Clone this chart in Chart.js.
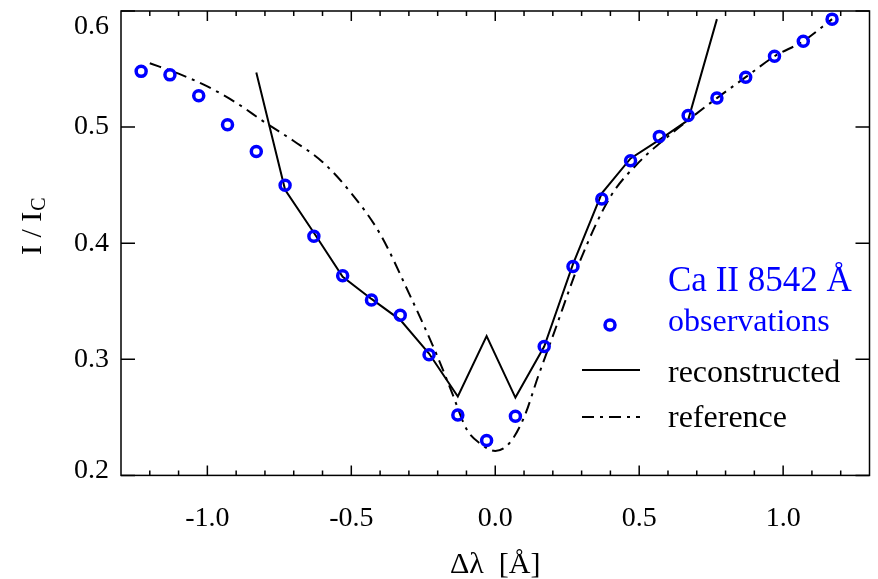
<!DOCTYPE html>
<html>
<head>
<meta charset="utf-8">
<script src="https://cdn.jsdelivr.net/npm/chart.js@4.4.1/dist/chart.umd.min.js"></script>
<style>
  body { margin: 0; background: #fff; }
  #wrap { width: 878px; height: 579px; }
</style>
</head>
<body>
<div id="wrap"><canvas id="profileChart" width="878" height="579"></canvas></div>
<script>
// observed line profile (blue circles)
const obsX = [-1.23, -1.13, -1.03, -0.93, -0.83, -0.73, -0.63, -0.53, -0.43, -0.33, -0.23, -0.13, -0.03,
              0.07, 0.17, 0.27, 0.37, 0.47, 0.57, 0.67, 0.77, 0.87, 0.97, 1.07, 1.17];
const obsY = [0.548, 0.545, 0.527, 0.502, 0.479, 0.450, 0.406, 0.372, 0.351, 0.338, 0.304, 0.252, 0.230,
              0.251, 0.311, 0.380, 0.438, 0.471, 0.492, 0.510, 0.525, 0.543, 0.561, 0.574, 0.593];

// reconstructed profile (solid)
const recX = [-0.83, -0.73, -0.63, -0.53, -0.43, -0.33, -0.23, -0.13, -0.03, 0.07, 0.17, 0.27, 0.37, 0.47, 0.57, 0.67, 0.77];
const recY = [0.547, 0.446, 0.409, 0.371, 0.352, 0.334, 0.305, 0.268, 0.320, 0.267, 0.311, 0.382, 0.443, 0.473, 0.489, 0.506, 0.593];

// reference profile (dash-dot)
const refX = [-1.20, -1.10, -1.00, -0.90, -0.80, -0.70, -0.60, -0.50, -0.40, -0.30, -0.20, -0.15, -0.10, -0.05, 0.00,
              0.05, 0.10, 0.15, 0.20, 0.30, 0.40, 0.50, 0.60, 0.67, 0.77, 0.87, 0.97, 1.07, 1.17];
const refY = [0.555, 0.546, 0.535, 0.521, 0.504, 0.488, 0.470, 0.443, 0.408, 0.357, 0.302, 0.271, 0.240, 0.227, 0.221,
              0.228, 0.250, 0.286, 0.320, 0.388, 0.440, 0.470, 0.492, 0.506, 0.525, 0.543, 0.561, 0.574, 0.593];

const xTickValues = [-1.0, -0.5, 0.0, 0.5, 1.0];
const xTickLabels = ["-1.0", "-0.5", "0.0", "0.5", "1.0"];
const yTickValues = [0.2, 0.3, 0.4, 0.5, 0.6];
const yTickLabels = ["0.2", "0.3", "0.4", "0.5", "0.6"];

const SERIF = "'Liberation Serif', 'Times New Roman', serif";
const BLUE = "#0000ff";
const DASHDOT = [12, 6, 3, 6];

function pairs(xs, ys) {
    return xs.map((x, i) => ({ x: x, y: ys[i] }));
}

// frame with inward ticks, y labels, axis titles and the legend block
const frameAndLabels = {
    id: "frameAndLabels",
    afterDraw(chart) {
        const ctx = chart.ctx;
        const a = chart.chartArea;
        const sx = chart.scales.x;
        const sy = chart.scales.y;
        ctx.save();
        ctx.strokeStyle = "#000";
        ctx.lineWidth = 1.5;
        ctx.setLineDash([]);
        ctx.strokeRect(a.left, a.top, a.right - a.left, a.bottom - a.top);

        ctx.beginPath();
        for (let k = -12; k <= 12; k++) {
            const px = sx.getPixelForValue(k / 10);
            const len = (k % 5 === 0) ? 10 : 5;
            ctx.moveTo(px, a.bottom); ctx.lineTo(px, a.bottom - len);
            ctx.moveTo(px, a.top); ctx.lineTo(px, a.top + len);
        }
        yTickValues.forEach(v => {
            const py = sy.getPixelForValue(v);
            ctx.moveTo(a.left, py); ctx.lineTo(a.left + 14, py);
            ctx.moveTo(a.right, py); ctx.lineTo(a.right - 14, py);
        });
        ctx.stroke();

        // y tick labels (end labels kept inside the frame height)
        ctx.fillStyle = "#000";
        ctx.font = "28px " + SERIF;
        ctx.textAlign = "right";
        ctx.textBaseline = "middle";
        yTickValues.forEach((v, i) => {
            let py = sy.getPixelForValue(v);
            py = Math.min(Math.max(py, a.top + 16), a.bottom - 5);
            ctx.fillText(yTickLabels[i], a.left - 12, py);
        });

        // y title  I / I_C
        ctx.save();
        ctx.translate(41, 255);
        ctx.rotate(-Math.PI / 2);
        ctx.textAlign = "left";
        ctx.textBaseline = "alphabetic";
        ctx.font = "30px " + SERIF;
        ctx.fillText("I / I", 0, 0);
        const w = ctx.measureText("I / I").width;
        ctx.font = "20px " + SERIF;
        ctx.fillText("C", w + 1, 4);
        ctx.restore();

        // x title
        ctx.textAlign = "center";
        ctx.textBaseline = "alphabetic";
        ctx.font = "30px " + SERIF;
        ctx.fillText("\u0394\u03bb  [\u00c5]", (a.left + a.right) / 2, 573);

        // legend
        ctx.textAlign = "left";
        ctx.fillStyle = BLUE;
        ctx.font = "35px " + SERIF;
        ctx.fillText("Ca II 8542 \u00c5", 668, 291);
        ctx.font = "32px " + SERIF;
        ctx.fillText("observations", 668, 331);
        ctx.strokeStyle = BLUE;
        ctx.lineWidth = 3.5;
        ctx.beginPath();
        ctx.arc(610, 325, 5, 0, Math.PI * 2);
        ctx.stroke();

        ctx.fillStyle = "#000";
        ctx.strokeStyle = "#000";
        ctx.lineWidth = 2;
        ctx.fillText("reconstructed", 668, 382);
        ctx.beginPath();
        ctx.moveTo(582, 370); ctx.lineTo(640, 370);
        ctx.stroke();
        ctx.fillText("reference", 668, 427);
        ctx.setLineDash(DASHDOT);
        ctx.beginPath();
        ctx.moveTo(582, 417); ctx.lineTo(640, 417);
        ctx.stroke();
        ctx.restore();
    }
};

const ctx = document.getElementById("profileChart").getContext("2d");
const profileChart = new Chart(ctx, {
    type: "scatter",
    data: {
        datasets: [
            {
                label: "observations",
                data: pairs(obsX, obsY),
                showLine: false,
                pointRadius: 5,
                pointBorderWidth: 3.5,
                pointBorderColor: BLUE,
                pointBackgroundColor: "rgba(0,0,0,0)"
            },
            {
                label: "reconstructed",
                data: pairs(recX, recY),
                showLine: true,
                borderColor: "#000",
                borderWidth: 2,
                pointRadius: 0,
                tension: 0
            },
            {
                label: "reference",
                data: pairs(refX, refY),
                showLine: true,
                borderColor: "#000",
                borderWidth: 2,
                borderDash: DASHDOT,
                pointRadius: 0,
                cubicInterpolationMode: "monotone"
            }
        ]
    },
    options: {
        responsive: false,
        animation: false,
        devicePixelRatio: 1,
        layout: { padding: { left: 121, right: 8, top: 11, bottom: 18 } },
        scales: {
            x: {
                type: "linear",
                min: -1.3,
                max: 1.3,
                grid: { display: false, drawTicks: false },
                border: { display: false },
                afterBuildTicks: axis => {
                    axis.ticks = xTickValues.map(v => ({ value: v }));
                },
                ticks: {
                    color: "#000",
                    padding: 26,
                    font: { family: SERIF, size: 28 },
                    callback: value => {
                        const i = xTickValues.findIndex(v => Math.abs(v - value) < 1e-6);
                        return i >= 0 ? xTickLabels[i] : "";
                    }
                }
            },
            y: {
                type: "linear",
                min: 0.2,
                max: 0.6,
                display: false
            }
        },
        plugins: {
            legend: { display: false },
            tooltip: { enabled: false }
        }
    },
    plugins: [frameAndLabels]
});
</script>
</body>
</html>
